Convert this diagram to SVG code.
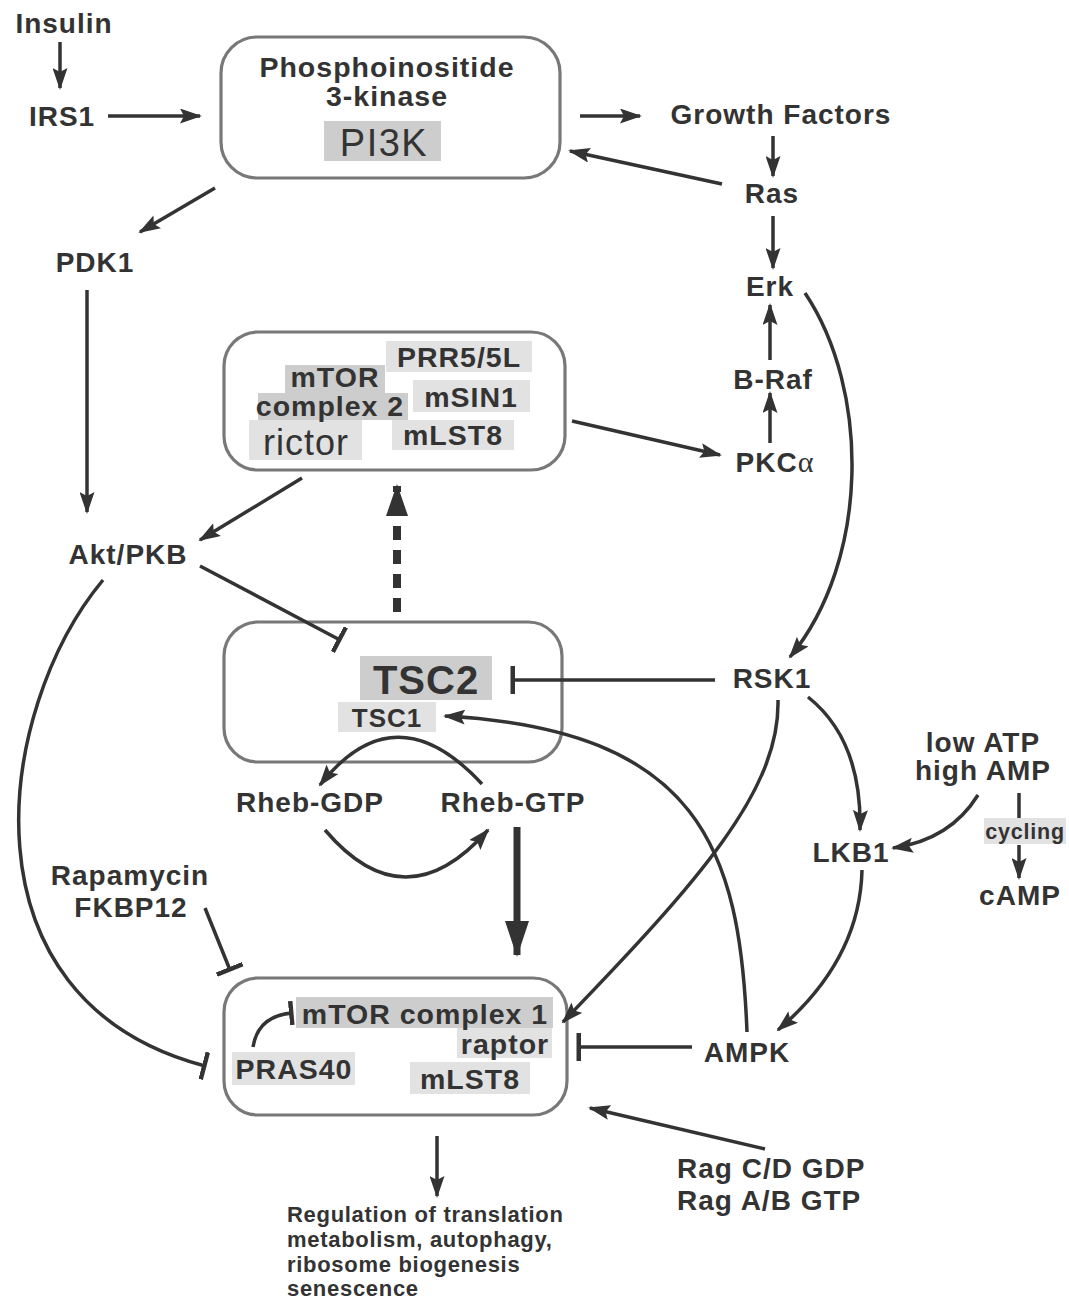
<svg xmlns="http://www.w3.org/2000/svg" width="1069" height="1301" viewBox="0 0 1069 1301">
<style>
.lbl{font-family:"Liberation Sans",Arial,sans-serif;font-weight:bold;font-size:28px;letter-spacing:1px;fill:#333;text-anchor:middle}
.in{font-family:"Liberation Sans",Arial,sans-serif;font-weight:bold;font-size:28.5px;letter-spacing:1px;fill:#333;text-anchor:middle}
.reg{font-family:"Liberation Sans",Arial,sans-serif;font-weight:normal;fill:#333;text-anchor:middle}
.small{font-family:"Liberation Sans",Arial,sans-serif;font-weight:bold;font-size:22px;letter-spacing:0.7px;fill:#333}
.box{fill:#fff;stroke:#787878;stroke-width:3.2}
.hd{fill:#cdcdcd}
.hl{fill:#e2e2e2}
.c{fill:none;stroke:#333;stroke-width:3.5}
</style>
<defs>
<marker id="ar" markerUnits="userSpaceOnUse" markerWidth="22" markerHeight="15" refX="20" refY="7.5" orient="auto"><path d="M0,0 L22,7.5 L0,15 L4,7.5 z" fill="#333"/></marker>
<marker id="big" markerUnits="userSpaceOnUse" markerWidth="36" markerHeight="24" refX="34" refY="12" orient="auto"><path d="M0,0 L36,12 L0,24 z" fill="#333"/></marker>
<marker id="dash" markerUnits="userSpaceOnUse" markerWidth="32" markerHeight="22" refX="30" refY="11" orient="auto"><path d="M0,0 L32,11 L0,22 z" fill="#333"/></marker>
<marker id="tb" markerUnits="userSpaceOnUse" markerWidth="6" markerHeight="28" refX="3" refY="14" orient="auto"><rect x="0" y="0" width="4.5" height="28" fill="#333"/></marker>
<marker id="tbs" markerUnits="userSpaceOnUse" markerWidth="6" markerHeight="24" refX="3" refY="12" orient="auto"><rect x="0" y="0" width="4.5" height="24" fill="#333"/></marker>
</defs>
<rect width="1069" height="1301" fill="#fff"/>

<g id="pi3k">
<rect class="box" x="221" y="37" width="339" height="141" rx="36"/>
<text class="in" x="387" y="77">Phosphoinositide</text>
<text class="in" x="387" y="106">3-kinase</text>
<rect class="hd" x="324" y="121" width="117" height="40"/>
<text class="reg" x="384" y="156" style="font-size:38px;letter-spacing:1.5px">PI3K</text>
</g>

<g id="mtorc2">
<rect class="box" x="224" y="332" width="341" height="138" rx="34"/>
<rect class="hl" x="386" y="341" width="146" height="31"/>
<rect class="hd" x="285" y="365" width="100" height="28"/>
<rect class="hd" x="258" y="393" width="150" height="27"/>
<rect class="hl" x="413" y="380" width="117" height="32"/>
<rect class="hl" x="249" y="420" width="113" height="40"/>
<rect class="hl" x="392" y="420" width="122" height="30"/>
<text class="in" x="459" y="367">PRR5/5L</text>
<text class="in" x="335" y="387">mTOR</text>
<text class="in" x="330" y="416">complex 2</text>
<text class="in" x="471" y="407">mSIN1</text>
<text class="reg" x="306" y="455" style="font-size:36px;letter-spacing:1px">rictor</text>
<text class="in" x="453" y="445">mLST8</text>
</g>

<g id="tsc">
<rect class="box" x="224" y="622" width="338" height="140" rx="34"/>
<rect class="hd" x="360" y="656" width="132" height="44"/>
<text class="in" x="426" y="694" style="font-size:40px">TSC2</text>
<rect class="hl" x="338" y="702" width="98" height="30"/>
<text class="in" x="387" y="727" style="font-size:26px">TSC1</text>
</g>

<g id="mtorc1">
<rect class="box" x="224" y="978" width="343" height="137" rx="34"/>
<rect class="hd" x="296" y="997" width="257" height="31"/>
<rect class="hl" x="457" y="1028" width="95" height="30"/>
<rect class="hl" x="232" y="1052" width="123" height="33"/>
<rect class="hl" x="410" y="1062" width="120" height="32"/>
<text class="in" x="425" y="1024">mTOR complex 1</text>
<text class="in" x="505" y="1054">raptor</text>
<text class="in" x="294" y="1079">PRAS40</text>
<text class="in" x="470" y="1089">mLST8</text>
</g>

<g id="insulin"><text class="lbl" x="64" y="33">Insulin</text></g>
<g id="irs1"><text class="lbl" x="62" y="126">IRS1</text></g>
<g id="gf"><text class="lbl" x="781" y="124">Growth Factors</text></g>
<g id="ras"><text class="lbl" x="772" y="203">Ras</text></g>
<g id="erk"><text class="lbl" x="770" y="296">Erk</text></g>
<g id="braf"><text class="lbl" x="773" y="389">B-Raf</text></g>
<g id="pkca"><text class="lbl" x="775" y="472">PKC<tspan style="font-family:'Liberation Serif',serif;font-weight:normal;font-size:30px">α</tspan></text></g>
<g id="pdk1"><text class="lbl" x="95" y="272">PDK1</text></g>
<g id="akt"><text class="lbl" x="128" y="564">Akt/PKB</text></g>
<g id="rsk1"><text class="lbl" x="772" y="688">RSK1</text></g>
<g id="rhebgdp"><text class="lbl" x="310" y="812">Rheb-GDP</text></g>
<g id="rhebgtp"><text class="lbl" x="513" y="812">Rheb-GTP</text></g>
<g id="rapamycin"><text class="lbl" x="130" y="885">Rapamycin</text><text class="lbl" x="131" y="917">FKBP12</text></g>
<g id="energy"><text class="lbl" x="983" y="752">low ATP</text><text class="lbl" x="983" y="780">high AMP</text></g>
<g id="cycling"><rect class="hl" x="984" y="818" width="82" height="26"/><text class="lbl" x="1025" y="839" style="font-size:21.5px;letter-spacing:0.8px">cycling</text></g>
<g id="lkb1"><text class="lbl" x="851" y="862">LKB1</text></g>
<g id="camp"><text class="lbl" x="1020" y="905">cAMP</text></g>
<g id="ampk"><text class="lbl" x="747" y="1062">AMPK</text></g>
<g id="rag"><text class="lbl" x="677" y="1178" style="text-anchor:start">Rag C/D GDP</text><text class="lbl" x="677" y="1210" style="text-anchor:start">Rag A/B GTP</text></g>
<g id="output"><text class="small" x="287" y="1222">Regulation of translation</text><text class="small" x="287" y="1247">metabolism, autophagy,</text><text class="small" x="287" y="1272">ribosome biogenesis</text><text class="small" x="287" y="1296">senescence</text></g>

<g id="connectors">
<path class="c" d="M60 42 V88" marker-end="url(#ar)"/>
<path class="c" d="M108 116 H200" marker-end="url(#ar)"/>
<path class="c" d="M580 116 H640" marker-end="url(#ar)"/>
<path class="c" d="M773 136 V176" marker-end="url(#ar)"/>
<path class="c" d="M722 184 L570 151" marker-end="url(#ar)"/>
<path class="c" d="M773 216 V268" marker-end="url(#ar)"/>
<path class="c" d="M770 360 V305" marker-end="url(#ar)"/>
<path class="c" d="M770 443 V393" marker-end="url(#ar)"/>
<path class="c" d="M572 421 L720 455" marker-end="url(#ar)"/>
<path class="c" d="M215 188 L140 232" marker-end="url(#ar)"/>
<path class="c" d="M87 290 V512" marker-end="url(#ar)"/>
<path class="c" d="M302 478 L200 540" marker-end="url(#ar)"/>
<path class="c" d="M200 566 L340 640" marker-end="url(#tb)"/>
<path fill="none" stroke="#333" stroke-width="8" stroke-dasharray="14 10" d="M397 612 V486" marker-end="url(#dash)"/>
<path class="c" d="M805 293 C870 390 870 560 790 657" marker-end="url(#ar)"/>
<path class="c" d="M715 680 H512" marker-end="url(#tb)"/>
<path class="c" d="M747 1032 C740 850 700 730 445 716" marker-end="url(#ar)"/>
<path class="c" d="M482 784 Q395 690 320 785" marker-end="url(#ar)"/>
<path class="c" d="M325 830 Q405 924 488 830" marker-end="url(#ar)"/>
<path fill="none" stroke="#333" stroke-width="7" d="M517 827 V955" marker-end="url(#big)"/>
<path class="c" d="M205 908 L230 970" marker-end="url(#tb)"/>
<path class="c" d="M103 580 C-5 710 -45 1000 205 1066" marker-end="url(#tb)"/>
<path class="c" d="M253 1047 Q258 1016 292 1013" marker-end="url(#tbs)"/>
<path class="c" d="M778 700 C780 790 700 880 563 1022" marker-end="url(#ar)"/>
<path class="c" d="M692 1047 H578" marker-end="url(#tb)"/>
<path class="c" d="M808 697 Q862 740 860 830" marker-end="url(#ar)"/>
<path class="c" d="M862 870 Q860 960 778 1030" marker-end="url(#ar)"/>
<path class="c" d="M978 795 Q950 840 893 848" marker-end="url(#ar)"/>
<path class="c" d="M1019 793 V818"/>
<path class="c" d="M1019 845 V878" marker-end="url(#ar)"/>
<path class="c" d="M765 1149 L590 1108" marker-end="url(#ar)"/>
<path class="c" d="M437 1136 V1196" marker-end="url(#ar)"/>
</g>
</svg>
